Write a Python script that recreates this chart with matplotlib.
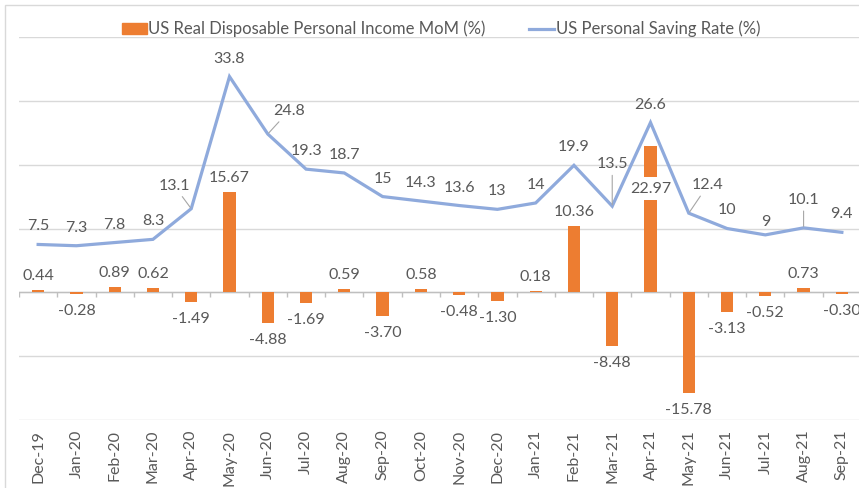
import numpy as np
import matplotlib.pyplot as plt
from matplotlib.patches import Patch, Rectangle
from matplotlib.lines import Line2D

plt.rcParams['font.family'] = ['Lato', 'DejaVu Sans']

months = ['Dec-19', 'Jan-20', 'Feb-20', 'Mar-20', 'Apr-20', 'May-20', 'Jun-20', 'Jul-20',
          'Aug-20', 'Sep-20', 'Oct-20', 'Nov-20', 'Dec-20', 'Jan-21', 'Feb-21', 'Mar-21',
          'Apr-21', 'May-21', 'Jun-21', 'Jul-21', 'Aug-21', 'Sep-21']
income_mom = [0.44, -0.28, 0.89, 0.62, -1.49, 15.67, -4.88, -1.69, 0.59, -3.70, 0.58,
              -0.48, -1.30, 0.18, 10.36, -8.48, 22.97, -15.78, -3.13, -0.52, 0.73, -0.30]
saving_rate = [7.5, 7.3, 7.8, 8.3, 13.1, 33.8, 24.8, 19.3, 18.7, 15, 14.3, 13.6, 13, 14,
               19.9, 13.5, 26.6, 12.4, 10, 9, 10.1, 9.4]

orange = '#ED7D31'
blue = '#8FAADC'
txt = '#595959'

fig = plt.figure(figsize=(8.59, 4.88), dpi=100)
ax = fig.add_axes([19/859, 68/488, 842/859, 383/488])
x = np.arange(len(months))

ax.bar(x, income_mom, width=0.32, color=orange, zorder=2)
ax.plot(x, saving_rate, color=blue, lw=2.3, zorder=3, solid_joinstyle='miter')

ax.set_xlim(-0.5, len(months) - 0.5)
ax.set_ylim(-20, 40)
ax.set_yticks(range(-20, 41, 10))
ax.set_yticklabels([])
ax.grid(axis='y', color='#D9D9D9', lw=1, zorder=0)
ax.set_axisbelow(True)
for s in ax.spines.values():
    s.set_visible(False)
ax.tick_params(axis='y', length=0)
ax.set_xticks(x)
ax.set_xticklabels(months, rotation=90, color=txt, fontsize=11.5)
ax.tick_params(axis='x', length=0, pad=7)

# horizontal axis at zero with tick marks between categories
ax.axhline(0, color='#BFBFBF', lw=1, zorder=1.5)
ax.vlines(np.arange(-0.5, len(months)), 0, -0.8, color='#BFBFBF', lw=1, zorder=1.5)

# saving rate labels (some moved with leader lines)
line_moved = {'Apr-20': (-17, 23), 'Jun-20': (21, 23), 'Mar-21': (0, 42),
              'May-21': (19, 28), 'Aug-21': (0, 28), 'Jul-21': (0, 13)}
leaders = ['Apr-20', 'Jun-20', 'Mar-21', 'May-21', 'Aug-21']
for i, v in enumerate(saving_rate):
    off = line_moved.get(months[i], (0, 18))
    ap = None
    if months[i] in leaders:
        ap = dict(arrowstyle='-', color='#A6A6A6', lw=0.8, shrinkA=1, shrinkB=1)
    ax.annotate('%g' % v, (i, v), xytext=off, textcoords='offset pixels',
                ha='center', va='center', color=txt, fontsize=11.5, arrowprops=ap, zorder=5)

# income labels (Apr-21 sits inside its bar on a white box, under the line)
for i, v in enumerate(income_mom):
    if months[i] == 'Apr-21':
        ax.annotate('%.2f' % v, (i, v), xytext=(0, -43), textcoords='offset pixels',
                    ha='center', va='center', color=txt, fontsize=11.5, zorder=2.5,
                    bbox=dict(boxstyle='square,pad=0.3', fc='white', ec='none'))
        continue
    off = (0, 14) if v > 0 else (0, -17)
    ax.annotate('%.2f' % v, (i, v), xytext=off, textcoords='offset pixels',
                ha='center', va='center', color=txt, fontsize=11.5, zorder=5)

handles = [Patch(color=orange), Line2D([], [], color=blue, lw=2.3)]
fig.legend(handles, ['US Real Disposable Personal Income MoM (%)', 'US Personal Saving Rate (%)'],
           loc='center', bbox_to_anchor=(441/859, 1 - 29/488), ncol=2, frameon=False,
           fontsize=12, labelcolor=txt, handlelength=1.5, handleheight=0.65,
           handletextpad=0.1, columnspacing=2.6)

# chart border
fig.patches.append(Rectangle((5/859, -0.1), 2, 1.1 - 5/488, transform=fig.transFigure,
                             fill=False, ec='#D9D9D9', lw=1))

fig.savefig('out.png', dpi=100)
